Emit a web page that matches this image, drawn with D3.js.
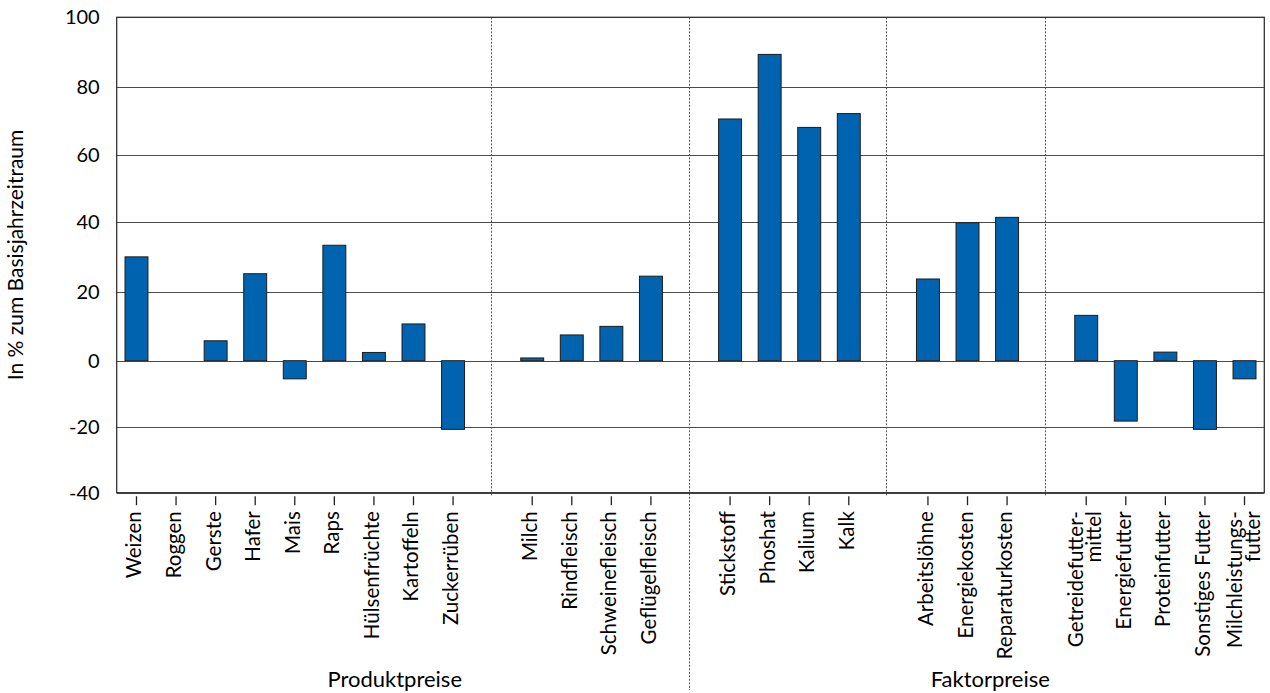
<!DOCTYPE html>
<html>
<head>
<meta charset="utf-8">
<script src="https://cdn.jsdelivr.net/npm/d3@7"></script>
<style>
  html, body { margin: 0; padding: 0; background: #fff; }
  svg text { font-family: Lato, "Open Sans", sans-serif; fill: #000; }
</style>
</head>
<body>
<svg id="chart" width="1270" height="693"></svg>
<script>
// ---- data ----
const categories = [
  "Weizen", "Roggen", "Gerste", "Hafer", "Mais", "Raps", "Hülsenfrüchte", "Kartoffeln", "Zuckerrüben",
  "Milch", "Rindfleisch", "Schweinefleisch", "Geflügelfleisch",
  "Stickstoff", "Phoshat", "Kalium", "Kalk",
  "Arbeitslöhne", "Energiekosten", "Reparaturkosten",
  "Getreidefutter-\nmittel", "Energiefutter", "Proteinfutter", "Sonstiges Futter", "Milchleistungs-\nfutter"
];
const values = [
  30.0, null, 5.8, 25.2, -5.5, 33.3, 2.4, 10.7, -20.8,
  0.8, 7.5, 10.0, 24.5,
  70.6, 89.4, 68.1, 72.2,
  23.7, 39.7, 41.3,
  13.2, -18.3, 2.5, -20.8, -5.5
];
const groupSizes = [9, 4, 4, 3, 5];
const sections = ["Produktpreise", "Faktorpreise"];
const sectionGroupCounts = [2, 3];
const yTicks = [-40, -20, 0, 20, 40, 60, 80, 100];
const yTitle = "In % zum Basisjahrzeitraum";

// ---- layout ----
const svg = d3.select("#chart");
const pLeft = 116.7, pRight = 1264.3, pTop = 17.3, pBottom = 492.7;

// slots: categories with an empty slot between groups
const slots = [];
const gapIds = [];
let ci = 0;
groupSizes.forEach((n, g) => {
  for (let k = 0; k < n; k++) slots.push("c" + (ci++));
  if (g < groupSizes.length - 1) { const id = "gap" + g; slots.push(id); gapIds.push(id); }
});

const x = d3.scaleBand().domain(slots).range([pLeft, pRight]).paddingInner(0.42).paddingOuter(0.21);
// y scale anchored to the gridlines of the picture
const y = d3.scaleLinear()
  .domain(yTicks)
  .range([492.7, 426.7, 360.7, 292.0, 221.7, 154.7, 87.3, 17.3]);

const cx = id => x(id) + x.bandwidth() / 2;

// gridlines
svg.append("g").selectAll("line").data(yTicks).join("line")
  .attr("x1", pLeft).attr("x2", pRight)
  .attr("y1", d => Math.round(y(d)) + 0.5).attr("y2", d => Math.round(y(d)) + 0.5)
  .attr("stroke", "#4a4a4a").attr("stroke-width", 1);

// separators
const sepLong = new Set();
{ let acc = 0; sectionGroupCounts.slice(0, -1).forEach(c => { acc += c; sepLong.add("gap" + (acc - 1)); }); }
svg.append("g").selectAll("line").data(gapIds).join("line")
  .attr("x1", d => Math.round(cx(d)) - 1.5).attr("x2", d => Math.round(cx(d)) - 1.5)
  .attr("y1", pTop).attr("y2", d => sepLong.has(d) ? 690 : pBottom + 4)
  .attr("stroke", "#555").attr("stroke-width", 1).attr("stroke-dasharray", "2,1.5");

// bars
const bars = categories.map((c, i) => ({ id: "c" + i, v: values[i] })).filter(d => d.v !== null);
svg.append("g").selectAll("rect").data(bars).join("rect")
  .attr("x", d => x(d.id))
  .attr("width", x.bandwidth())
  .attr("y", d => Math.min(y(d.v), y(0)))
  .attr("height", d => Math.abs(y(d.v) - y(0)))
  .attr("fill", "#0063AF")
  .attr("stroke", "#1c1c1c").attr("stroke-width", 1);

// plot frame
svg.append("rect").attr("x", pLeft).attr("y", pTop).attr("width", pRight - pLeft).attr("height", pBottom - pTop)
  .attr("fill", "none").attr("stroke", "#333").attr("stroke-width", 1.3);

// y axis labels
const yAxis = d3.axisLeft(y).tickValues(yTicks).tickSize(0).tickPadding(17).tickFormat(d => String(d));
const yg = svg.append("g").attr("transform", `translate(${pLeft},0)`).call(yAxis);
yg.select(".domain").remove();
yg.selectAll("text").attr("font-size", 20).attr("font-family", "Lato, sans-serif").attr("fill", "#000");

// x axis ticks & labels
const catIds = categories.map((c, i) => "c" + i);
const xAxis = d3.axisBottom(x).tickValues(catIds).tickSize(9).tickSizeOuter(0).tickFormat("");
const xg = svg.append("g").attr("transform", `translate(0,${pBottom + 3.5})`).call(xAxis);
xg.select(".domain").remove();
xg.selectAll(".tick line").attr("stroke", "#222").attr("stroke-width", 1.3);
xg.selectAll(".tick").each(function (id) {
  const i = +id.slice(1);
  const lines = categories[i].split("\n");
  const t = d3.select(this).append("text")
    .attr("transform", "rotate(-90)")
    .attr("text-anchor", "end")
    .attr("font-size", 20.5)
    .attr("fill", "#000");
  if (lines.length === 1) {
    t.append("tspan").attr("x", -15).attr("y", 5).text(lines[0]);
  } else {
    lines.forEach((ln, k) => t.append("tspan").attr("x", -15).attr("y", -3 + k * 18).text(ln));
  }
});

// section labels
let accG = 0, accC = 0;
const sectionPos = [];
sectionGroupCounts.forEach((gc, s) => {
  const n = groupSizes.slice(accG, accG + gc).reduce((a, b) => a + b, 0);
  sectionPos.push({ label: sections[s], first: "c" + accC, last: "c" + (accC + n - 1) });
  accG += gc; accC += n;
});
svg.append("g").selectAll("text").data(sectionPos).join("text")
  .attr("x", (d, i) => i === 0 ? (cx(d.first) + cx(d.last)) / 2 + 1 : (cx(d.first) + cx(d.last)) / 2 + 3)
  .attr("y", 687)
  .attr("text-anchor", "middle")
  .attr("font-size", 22)
  .text(d => d.label);

// y title
svg.append("text")
  .attr("transform", `translate(23,${(pTop + pBottom) / 2}) rotate(-90)`)
  .attr("text-anchor", "middle")
  .attr("font-size", 21)
  .text(yTitle);
</script>
</body>
</html>
